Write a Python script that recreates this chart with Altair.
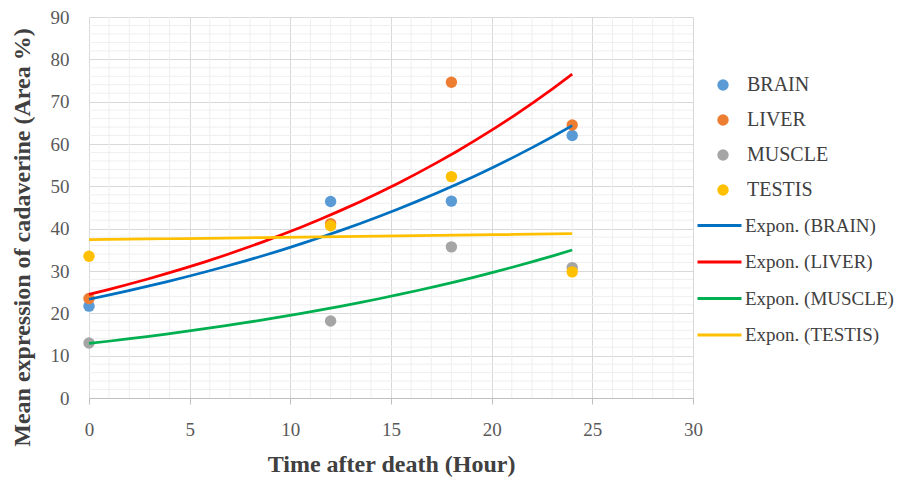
import altair as alt
import pandas as pd

# ---- data ----
hours = [0, 12, 18, 24]
tissues = ["BRAIN", "LIVER", "MUSCLE", "TESTIS"]
brain = [21.7, 46.4, 46.5, 62.0]
liver = [23.5, 41.2, 74.6, 64.5]
muscle = [13.0, 18.2, 35.7, 30.8]
testis = [33.5, 40.7, 52.3, 29.8]

point_colors = ["#5B9BD5", "#ED7D31", "#A5A5A5", "#FFC000"]
trend_names = ["Expon. (BRAIN)", "Expon. (LIVER)", "Expon. (MUSCLE)", "Expon. (TESTIS)"]
trend_colors = ["#0070C0", "#FF0000", "#00B050", "#FFC000"]

x_ticks = [0, 5, 10, 15, 20, 25, 30]
y_ticks = [0, 10, 20, 30, 40, 50, 60, 70, 80, 90]
x_minor = [v for v in range(0, 31) if v % 5 != 0]
y_minor = [v for v in range(0, 91, 2) if v % 10 != 0]

series = {"BRAIN": brain, "LIVER": liver, "MUSCLE": muscle, "TESTIS": testis}
rows = []
for t in tissues:
    for h, v in zip(hours, series[t]):
        rows.append({"hour": h, "value": v, "tissue": t})
df = pd.DataFrame(rows)

SERIF = "Liberation Serif, Times New Roman, DejaVu Serif, serif"
xscale = alt.Scale(domain=[0, 30], nice=False)
yscale = alt.Scale(domain=[0, 90], nice=False)

minor_x = alt.Chart(pd.DataFrame({"v": x_minor})).mark_rule(
    color="#efefef", strokeWidth=1
).encode(x=alt.X("v:Q", scale=xscale))

minor_y = alt.Chart(pd.DataFrame({"v": y_minor})).mark_rule(
    color="#efefef", strokeWidth=1
).encode(y=alt.Y("v:Q", scale=yscale))

x_axis = alt.Axis(
    values=x_ticks, grid=True, gridColor="#d9d9d9", domainColor="#bfbfbf",
    tickColor="#bfbfbf", tickSize=6, labelFont=SERIF, labelFontSize=19,
    labelColor="#595959", labelPadding=16, title="Time after death (Hour)",
    titleFont=SERIF, titleFontSize=24, titleFontWeight="bold", titleColor="#404040",
    titleY=73, titleBaseline="alphabetic", labelFlush=False,
)
y_axis = alt.Axis(
    values=y_ticks, grid=True, gridColor="#d9d9d9", domain=False, ticks=False,
    labelFont=SERIF, labelFontSize=19, labelColor="#595959", labelPadding=20,
    title="Mean expression of cadaverine (Area %)", titleFont=SERIF,
    titleFontSize=24, titleFontWeight="bold", titleColor="#404040",
    titleX=-67, titleY=220, titleBaseline="middle", labelFlush=False,
)

points = alt.Chart(df).mark_circle(size=130, opacity=1).encode(
    x=alt.X("hour:Q", scale=xscale, axis=x_axis),
    y=alt.Y("value:Q", scale=yscale, axis=y_axis),
    color=alt.Color(
        "tissue:N", title=None,
        scale=alt.Scale(domain=tissues, range=point_colors),
        legend=alt.Legend(
            orient="none", legendX=624, legendY=58, symbolType="circle",
            symbolSize=130, symbolStrokeWidth=0, labelFont=SERIF,
            labelFontSize=20, labelColor="#404040", labelOffset=14,
            rowPadding=15, padding=0,
        ),
    ),
)

trend = alt.Chart(df).transform_calculate(
    ly="log(datum.value)",
    trend="'Expon. (' + datum.tissue + ')'",
).transform_regression(
    "hour", "ly", groupby=["trend"], method="poly", order=1
).transform_calculate(
    fit="exp(datum.ly)"
).mark_line(strokeWidth=2.75).encode(
    x=alt.X("hour:Q", scale=xscale),
    y=alt.Y("fit:Q", scale=yscale),
    stroke=alt.Stroke(
        "trend:N", title=None,
        scale=alt.Scale(domain=trend_names, range=trend_colors),
        legend=alt.Legend(
            orient="none", legendX=607, legendY=185, symbolType="stroke",
            symbolSize=1936, symbolStrokeWidth=3, labelFont=SERIF,
            labelFontSize=19, labelColor="#404040", labelOffset=2,
            rowPadding=2.5, padding=0,
        ),
    ),
)

chart = alt.layer(minor_x, minor_y, points, trend).resolve_scale(
    color="independent", stroke="independent"
).properties(
    width=604, height=381,
    autosize=alt.AutoSizeParams(type="none"),
    padding={"left": 81, "top": 9, "right": 202, "bottom": 79},
).configure_view(stroke=None)

chart.save("out.html", embed_options={"renderer": "svg", "actions": False})
